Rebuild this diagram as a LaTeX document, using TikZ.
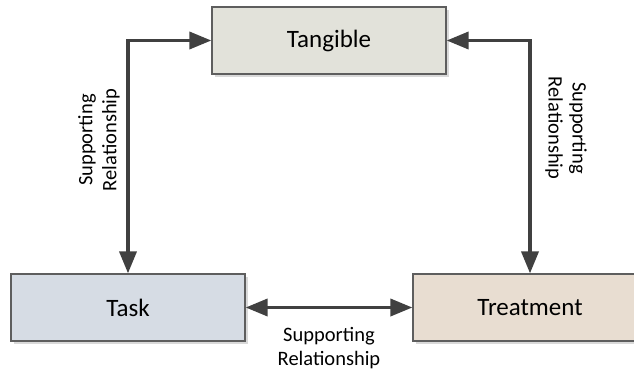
\documentclass[tikz,border=0pt]{standalone}
\usepackage{fontspec}
\setmainfont{Carlito}
\usetikzlibrary{arrows.meta,shadows}
\definecolor{tangfill}{HTML}{E2E2DA}
\definecolor{taskfill}{HTML}{D6DCE4}
\definecolor{treatfill}{HTML}{E8DDD1}
\definecolor{boxline}{HTML}{5E5E5E}
\definecolor{linkcol}{HTML}{404040}
\begin{document}
\begin{tikzpicture}[x=1bp,y=1bp,
  block/.style={draw=boxline, line width=1.2bp, minimum width=234bp, minimum height=67bp,
    inner sep=0pt, font=\fontsize{25bp}{30bp}\selectfont,
    drop shadow={shadow xshift=3bp, shadow yshift=-3bp, fill=black!15, opacity=1}},
  link/.style={draw=linkcol, line width=3.6bp,
    {Triangle[length=22bp,width=17bp]}-{Triangle[length=22bp,width=17bp]}},
  note/.style={align=center, inner sep=0pt, font=\fontsize{20.5bp}{24bp}\selectfont}]
  \useasboundingbox (0,0) rectangle (634,371);
  \clip (0,0) rectangle (634,371);
  % the three boxes
  \node[block, fill=tangfill] (tangible) at (329,330.5) {Tangible};
  \node[block, fill=taskfill] (task) at (128,63.5) {Task};
  \node[block, fill=treatfill] (treatment) at (530,63.5) {Treatment};
  % connectors between them
  \draw[link] (task.north) |- (tangible.west);
  \draw[link] (treatment.north) |- (tangible.east);
  \draw[link] (task.east) -- (treatment.west);
  % connector labels
  \node[note, rotate=90] (lblleft) at (99,231) {Supporting\\Relationship};
  \node[note, rotate=-90] (lblright) at (566,243) {Supporting\\Relationship};
  \node[note] (lblbottom) at (329,23) {Supporting\\Relationship};
\end{tikzpicture}
\end{document}
